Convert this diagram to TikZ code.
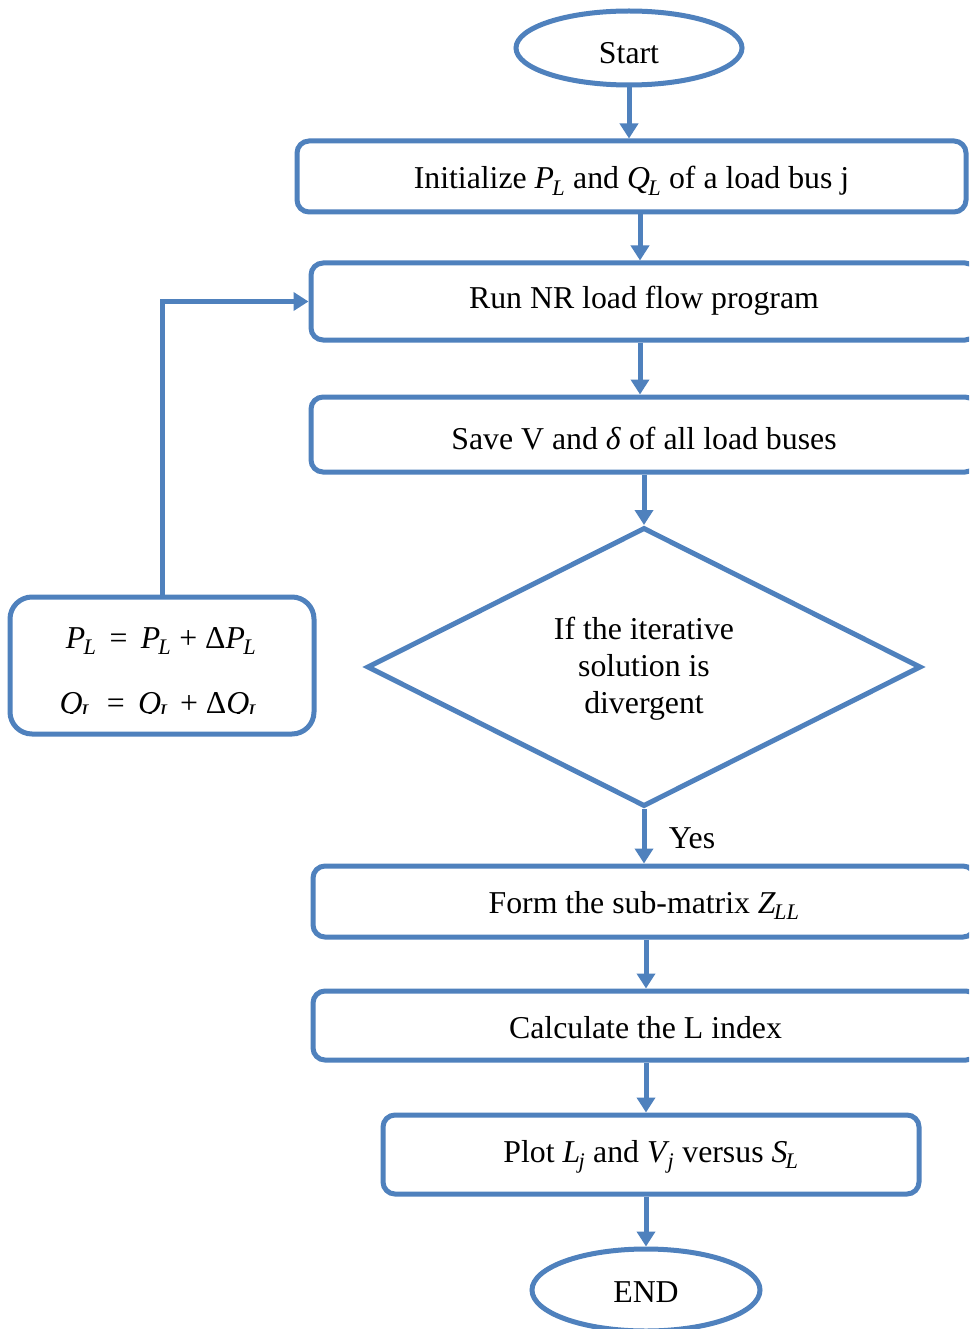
\documentclass[tikz,border=0pt]{standalone}
\usepackage{fontspec}
\setmainfont{Liberation Serif}
\newfontfamily\tnr{Liberation Serif}
\usetikzlibrary{shapes.geometric,arrows.meta}
\definecolor{fb}{HTML}{4F81BD}
\newcommand\vsub[2]{\textit{#1}\textsubscript{\kern-0.08em\textit{#2}}}
\tikzset{
  box/.style={draw=fb, line width=5pt, rounded corners=12pt, inner sep=0pt, text height=25pt, text depth=0pt},
  term/.style={ellipse, draw=fb, line width=5pt, inner sep=0pt, text height=25pt, text depth=0pt},
  dec/.style={diamond, draw=fb, line width=5pt, inner sep=0pt},
  arr/.style={draw=fb, line width=5pt, -{Triangle[length=15pt,width=18pt]}},
  lbl/.style={inner sep=0pt}
}
\begin{document}
\begin{tikzpicture}[x=1pt,y=-1pt, every node/.style={font=\tnr\fontsize{31.8}{37}\selectfont}]
\useasboundingbox (0,0) rectangle (969,1329);
\clip (0,0) rectangle (969,1329);
\fill[white] (0,0) rectangle (969,1329);

\node[term, minimum width=226pt, minimum height=74pt, text height=31pt] (start) at (629,48) {Start};
\node[box, minimum width=669pt, minimum height=71pt, text height=25pt] (init) at (631.5,176.5) {Initialize \vsub{P}{L} and \vsub{Q}{L} of a load bus j};
\node[box, minimum width=666pt, minimum height=77pt, text height=14pt] (run) at (644,301.5) {Run NR load flow program};
\node[box, minimum width=666pt, minimum height=75pt, text height=30pt] (save) at (644,434.5) {Save V and \textit{δ} of all load buses};
\node[dec, minimum width=554pt, minimum height=279pt] (cond) at (644,667) {};
\node[lbl, align=center] (condtxt) at (644,669) {If the iterative\\solution is\\divergent};
\node[box, minimum width=662pt, minimum height=71pt, text height=24pt] (form) at (644,901.5) {Form the sub-matrix \vsub{Z}{LL}};
\node[box, minimum width=665pt, minimum height=69pt, text height=26pt] (calc) at (645.5,1025.5) {Calculate the L index};
\node[box, minimum width=536pt, minimum height=79pt, text height=15pt] (plot) at (651,1154.5) {Plot \vsub{L}{j} and \vsub{V}{j} versus \vsub{S}{L}};
\node[term, minimum width=228pt, minimum height=82pt, text height=25pt] (fin) at (646,1290) {END};
\node[box, rounded corners=22pt, minimum width=304pt, minimum height=137pt] (upd) at (162,665.5) {};
\node[lbl, anchor=base] (eqp) at (161,648) {\vsub{P}{L} \,=\, \vsub{P}{L} + Δ\vsub{P}{L}};
\begin{scope}
  \clip (0,0) rectangle (330,713);
  \node[lbl, anchor=base] (eqq) at (160,713) {\vsub{Q}{L} \,=\, \vsub{Q}{L} + Δ\vsub{Q}{L}};
\end{scope}
\node[lbl] (yes) at (692,838) {Yes};

\coordinate (c640) at (640,0);
\coordinate (c646) at (646,0);
\draw[arr] (start.south) -- (start.south |- init.north);
\draw[arr] (init.south -| c640) -- (run.north -| c640);
\draw[arr] (run.south -| c640) -- (save.north -| c640);
\draw[arr] (save.south -| cond.north) -- (cond.north);
\draw[arr] (cond.south) -- (cond.south |- form.north);
\draw[arr] (form.south -| c646) -- (calc.north -| c646);
\draw[arr] (calc.south -| c646) -- (plot.north -| c646);
\draw[arr] (plot.south -| c646) -- (fin.north -| c646);
\draw[arr] (upd.north) |- (run.west);
\end{tikzpicture}
\end{document}
